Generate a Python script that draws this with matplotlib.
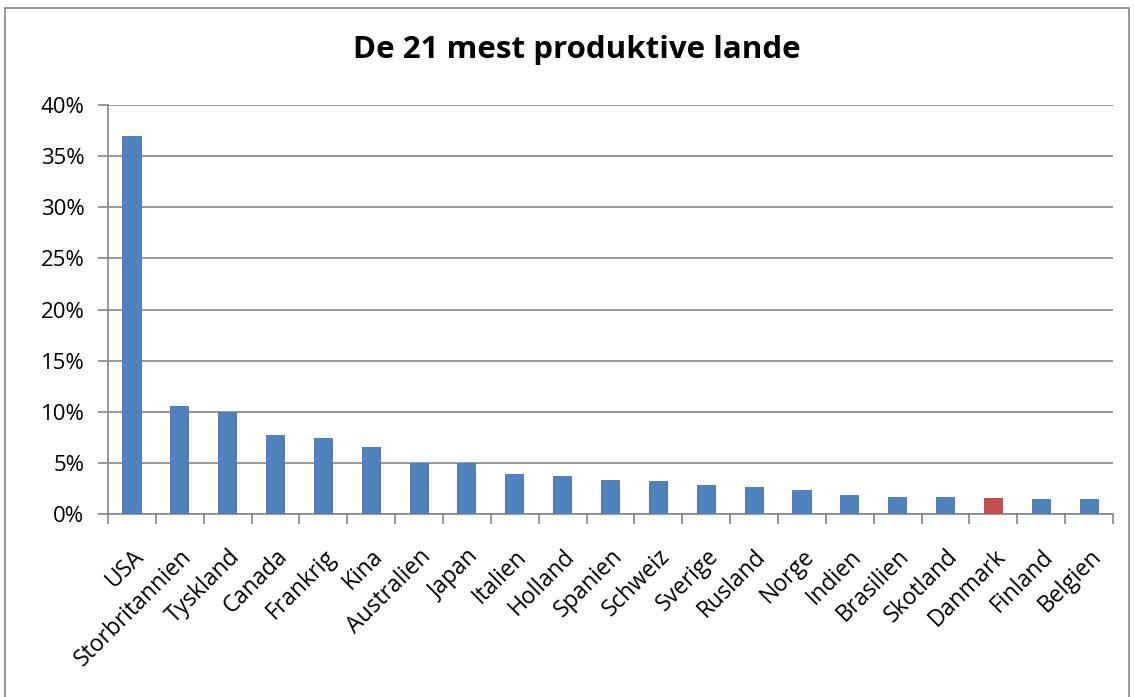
import matplotlib

matplotlib.use("Agg")
import matplotlib.pyplot as plt
from matplotlib.patches import Rectangle
from matplotlib.ticker import FuncFormatter, MultipleLocator

# share of output per country, in percent
countries = [
    "USA", "Storbritannien", "Tyskland", "Canada", "Frankrig", "Kina",
    "Australien", "Japan", "Italien", "Holland", "Spanien", "Schweiz",
    "Sverige", "Rusland", "Norge", "Indien", "Brasilien", "Skotland",
    "Danmark", "Finland", "Belgien",
]
shares = [
    37.0, 10.55, 10.0, 7.75, 7.45, 6.6,
    5.0, 5.0, 3.9, 3.7, 3.3, 3.2,
    2.8, 2.6, 2.3, 1.9, 1.7, 1.7,
    1.6, 1.45, 1.43,
]
highlight = "Danmark"

BLUE = "#4F81BD"
RED = "#C0504D"
GREY = "#868686"

plt.rcParams["font.family"] = ["Open Sans", "DejaVu Sans"]

fig = plt.figure(figsize=(11.34, 6.97), dpi=100)
ax = fig.add_axes([108 / 1134, 1 - 514 / 697, (1113 - 108) / 1134, (514 - 105) / 697])

# chart-area frame
fig.patches.append(Rectangle((5 / 1134, -0.05), 1124 / 1134, 1 - 8 / 697 + 0.05,
                             transform=fig.transFigure, fill=False,
                             edgecolor=GREY, linewidth=1.2))

x = list(range(len(countries)))
colors = [RED if c == highlight else BLUE for c in countries]
ax.bar(x, shares, width=0.4, color=colors, zorder=3)

ax.set_xlim(-0.5, len(countries) - 0.5)
ax.set_ylim(0, 40)
ax.yaxis.set_major_locator(MultipleLocator(5))
ax.yaxis.set_major_formatter(FuncFormatter(lambda v, _: f"{v:.0f}%"))
ax.grid(axis="y", color=GREY, linewidth=1.2, zorder=0)

for side in ("top", "right"):
    ax.spines[side].set_visible(False)
for side in ("left", "bottom"):
    ax.spines[side].set_color(GREY)
    ax.spines[side].set_linewidth(1.2)

# category ticks sit between bars, labels under each bar
ax.set_xticks([i - 0.5 for i in range(len(countries) + 1)])
ax.set_xticklabels([])
ax.set_xticks(x, minor=True)
ax.set_xticklabels(countries, minor=True, rotation=45, ha="right",
                   rotation_mode="anchor", fontsize=16.5)
ax.tick_params(axis="x", which="major", length=7, width=1.2, color=GREY)
ax.tick_params(axis="x", which="minor", length=0, pad=22)
ax.tick_params(axis="y", length=7, width=1.2, color=GREY, labelsize=16, pad=10)

fig.text(0.509, 1 - 50 / 697, "De 21 mest produktive lande", ha="center",
         va="center", fontsize=22.5, fontweight="bold")

fig.savefig("out.png", dpi=100)
